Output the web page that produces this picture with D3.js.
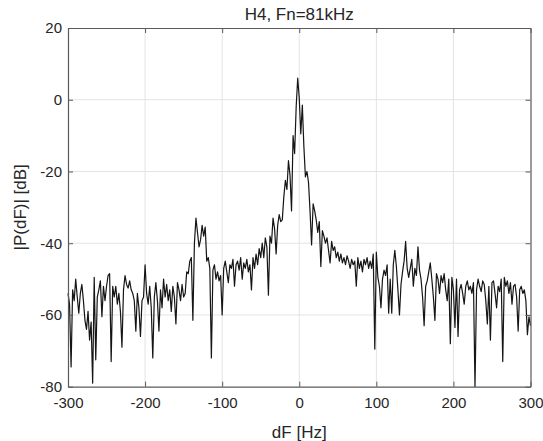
<!DOCTYPE html>
<html>
<head>
<meta charset="utf-8">
<script src="https://cdn.jsdelivr.net/npm/d3@7"></script>
<style>
  html, body { margin: 0; padding: 0; background: #fff; }
  text { font-family: "Liberation Sans", Arial, Helvetica, sans-serif; fill: #262626; }
</style>
</head>
<body>
<svg id="chart" width="543" height="441"></svg>
<script>
// ---- data ----
const chartTitle = "H4, Fn=81kHz";
const xLabel = "dF [Hz]";
const yLabel = "|P(dF)| [dB]";
const xTicks = [-300, -200, -100, 0, 100, 200, 300];
const yTicks = [-80, -60, -40, -20, 0, 20];
const xDomain = [-300, 300];
const yDomain = [-80, 20];
const freqStep = 2; // Hz between samples, first sample at -300 Hz

// |P(dF)| in dB, sampled every 2 Hz from -300 Hz to +300 Hz
const powerA = [ // -300 .. -200
  -54, -57, -74.5, -53, -56, -50, -55, -59.5, -54, -51.5,
  -56, -61.5, -64, -59, -67, -62, -79, -49.5, -72.5, -55,
  -53, -50.5, -60.5, -52, -56, -52, -49, -48.5, -73, -52,
  -55, -52, -57, -54, -59, -69, -53, -49, -51.5, -52.5,
  -50.5, -53, -54, -56, -64.5, -54, -58, -66, -56, -55,
  -46
];
const powerB = [ // -198 .. -150
  -54, -57, -52, -58, -72, -55, -51, -56, -64.5, -53,
  -58, -50, -55, -51.5, -56, -53, -59, -52, -55, -62.5,
  -51, -53, -56, -51.5, -55
];
const powerC = [ // -148 .. -100
  -54, -48, -48.5, -45, -44, -61.5, -40, -33, -37, -41,
  -39, -35, -38, -35.5, -45, -44, -47, -72, -47.5, -46,
  -50, -48, -50.5, -49, -60
];
const powerD = [ // -98 .. -50
  -47, -45, -48, -51, -46, -47, -44.5, -52, -46, -45,
  -47.5, -44, -50, -45.5, -47, -44.5, -48, -46, -53, -44,
  -47, -43, -46, -41.5, -44
];
const powerE = [ // -48 .. 0
  -40, -44, -38.5, -41, -54.5, -38, -40, -33, -36, -43,
  -35, -32, -34, -33.5, -27, -22.5, -25, -17, -21, -31,
  -10, -15, -2, 6, 0.5
];
const powerF = [ // 2 .. 50
  -9.5, -1.5, -13, -21.5, -20, -23, -31, -40.5, -29, -31,
  -33.5, -37, -34, -46.5, -36.5, -38, -40, -38.5, -42, -45.5,
  -39.5, -42, -41, -44, -42.5
];
const powerG = [ // 52 .. 100
  -45, -43, -45.5, -44, -46, -43.5, -45, -47, -44.5, -46,
  -45, -52, -44, -47, -45, -48, -44.5, -46, -44, -47,
  -45, -47, -43, -69.5, -42.5
];
const powerH = [ // 102 .. 150
  -49.5, -52, -58, -50, -47.5, -49, -46, -59.5, -50, -59.5,
  -46, -42, -46.5, -53, -60, -51.5, -48, -45, -39.5, -47,
  -49.5, -47, -44.5, -52, -47
];
const powerI = [ // 152 .. 200
  -49, -41, -47.5, -50, -55, -63, -52, -50.5, -48, -45.5,
  -50, -55, -61.5, -48.5, -50, -54, -49, -51, -48.5, -53,
  -56, -50, -68, -49.5, -53
];
const powerJ = [ // 202 .. 250
  -63.5, -50, -66, -53, -51.5, -54, -57, -52, -50.5, -53,
  -52, -54, -51, -80, -53, -50, -52, -53.5, -50.5, -51.5,
  -56, -62.5, -52, -67, -51
];
const powerK = [ // 252 .. 300
  -50.5, -54, -58, -52, -53.5, -50, -73, -49.5, -52, -50.5,
  -54, -51, -57, -52, -51.5, -55, -64.5, -53, -52, -54,
  -53, -56, -65.5, -60.5, -63
];
const power = [].concat(powerA, powerB, powerC, powerD, powerE, powerF,
                        powerG, powerH, powerI, powerJ, powerK);
const points = power.map((v, i) => ({ f: xDomain[0] + i * freqStep, p: v }));

// ---- layout ----
const svg = d3.select("#chart");
const mLeft = 68, mRight = 530.5, mTop = 28, mBottom = 386.7;
const x = d3.scaleLinear().domain(xDomain).range([mLeft, mRight]);
const y = d3.scaleLinear().domain(yDomain).range([mBottom, mTop]);
const axisColor = "#5a5a5a";
const gridColor = "#e3e3e3";
const tickFont = 15;
const labelFont = 17;
const fmt = d => String(d);

// grid
const grid = svg.append("g");
grid.selectAll("line.gx").data(xTicks.slice(1, -1)).join("line")
  .attr("x1", d => x(d)).attr("x2", d => x(d))
  .attr("y1", mTop).attr("y2", mBottom)
  .attr("stroke", gridColor).attr("stroke-width", 1);
grid.selectAll("line.gy").data(yTicks.slice(1, -1)).join("line")
  .attr("x1", mLeft).attr("x2", mRight)
  .attr("y1", d => y(d)).attr("y2", d => y(d))
  .attr("stroke", gridColor).attr("stroke-width", 1);

// data line
const line = d3.line().x(d => x(d.f)).y(d => y(d.p));
svg.append("path").datum(points)
  .attr("d", line)
  .attr("fill", "none")
  .attr("stroke", "#151515")
  .attr("stroke-width", 1.2)
  .attr("stroke-linejoin", "round");

// axes (MATLAB style: ticks inside, box)
const xAxisB = d3.axisBottom(x).tickValues(xTicks).tickSizeInner(-5).tickSizeOuter(0).tickPadding(11).tickFormat(fmt);
const xAxisT = d3.axisTop(x).tickValues(xTicks).tickSizeInner(-5).tickSizeOuter(0).tickFormat("");
const yAxisL = d3.axisLeft(y).tickValues(yTicks).tickSizeInner(-5).tickSizeOuter(0).tickPadding(6).tickFormat(fmt);
const yAxisR = d3.axisRight(y).tickValues(yTicks).tickSizeInner(-5).tickSizeOuter(0).tickFormat("");

function style(g) {
  g.select(".domain").attr("stroke", axisColor).attr("stroke-width", 1.2);
  g.selectAll(".tick line").attr("stroke", axisColor);
  g.selectAll(".tick text").attr("font-size", tickFont)
    .attr("font-family", '"Liberation Sans", Arial, sans-serif').attr("fill", "#262626");
}
svg.append("g").attr("transform", `translate(0,${mBottom})`).call(xAxisB).call(style);
svg.append("g").attr("transform", `translate(0,${mTop})`).call(xAxisT).call(style);
svg.append("g").attr("transform", `translate(${mLeft},0)`).call(yAxisL).call(style);
svg.append("g").attr("transform", `translate(${mRight},0)`).call(yAxisR).call(style);

// title and labels
svg.append("text").attr("x", (mLeft + mRight) / 2).attr("y", 20)
  .attr("text-anchor", "middle").attr("font-size", labelFont).text(chartTitle);
svg.append("text").attr("x", (mLeft + mRight) / 2).attr("y", 438)
  .attr("text-anchor", "middle").attr("font-size", labelFont).text(xLabel);
svg.append("text").attr("transform", `translate(26,${(mTop + mBottom) / 2}) rotate(-90)`)
  .attr("text-anchor", "middle").attr("font-size", labelFont).text(yLabel);
</script>
</body>
</html>
